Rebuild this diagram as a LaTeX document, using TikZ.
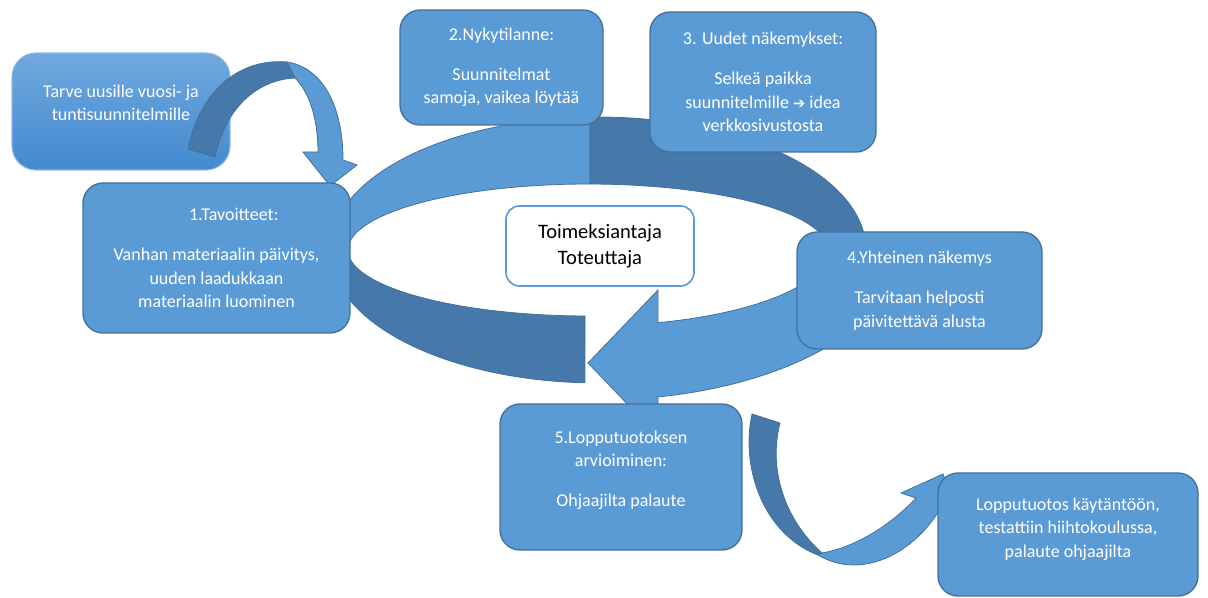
\documentclass[tikz,border=0pt]{standalone}
\usepackage{fontspec}
\setmainfont{Carlito}
\newfontfamily\arrowfont{DejaVu Sans}
\usepackage{xcolor}
\usepackage{tikz}
\usetikzlibrary{positioning}
\definecolor{boxblue}{RGB}{91,155,213}
\definecolor{boxline}{RGB}{65,113,156}
\definecolor{ringdark}{RGB}{70,120,170}
\definecolor{tarvetop}{RGB}{112,168,222}
\definecolor{tarvebot}{RGB}{68,138,208}
\definecolor{tarveedge}{RGB}{140,185,230}

\begin{document}
\begin{tikzpicture}[x=0.75pt, y=-0.75pt,
    box/.style={rectangle, rounded corners=15pt, draw=boxline, line width=1pt,
                fill=boxblue, text=white, align=center, inner sep=0pt,
                font=\fontsize{13.5}{17.6}\selectfont},
    core/.style={rectangle, rounded corners=10pt, draw=boxblue, line width=1.2pt,
                 fill=white, align=center, inner sep=0pt,
                 font=\fontsize{15.4}{19.5}\selectfont},
    bandlight/.style={fill=boxblue, draw=boxline, line width=0.6pt},
    banddark/.style={fill=ringdark, draw=boxline, line width=0.6pt}
  ]
    \useasboundingbox (0,0) rectangle (1208,598);

    % ring round the centre
    \filldraw[bandlight] plot[domain=195:268.3, samples=40] ({598+268*cos(\x)},{250+133*sin(\x)})
      -- plot[domain=270.5:185, samples=40] ({588+240*cos(\x)},{250+66*sin(\x)}) -- cycle;
    \filldraw[banddark] plot[domain=268.3:365, samples=40] ({598+268*cos(\x)},{250+133*sin(\x)})
      -- plot[domain=365:270.5, samples=40] ({588+240*cos(\x)},{250+66*sin(\x)}) -- cycle;
    \filldraw[banddark] plot[domain=165:92.8, samples=40] ({598+268*cos(\x)},{250+133*sin(\x)})
      -- plot[domain=90.7:175, samples=40] ({588+240*cos(\x)},{250+66*sin(\x)}) -- cycle;
    \filldraw[bandlight] plot[domain=5:73.04, samples=40] ({588+240*cos(\x)},{250+76*sin(\x)})
      -- (658,290) -- (588,363) -- (658,436)
      -- plot[domain=78.46:10, samples=40] ({598+300*cos(\x)},{250+150*sin(\x)}) -- cycle;

    \node[rectangle, rounded corners=18pt, draw=tarveedge, line width=0.8pt,
          top color=tarvetop, bottom color=tarvebot, text=white, align=center,
          minimum width=163.5pt, minimum height=87.75pt, inner sep=0pt,
          font=\fontsize{13.5}{17.6}\selectfont] (tarve) at (121,111.5)
      {Tarve uusille vuosi- ja\\tuntisuunnitelmille\\[-4.1pt]};

    % curved arrow from the need to the goals
    \filldraw[banddark] (188,149) .. controls (200,90) and (240,58) .. (287,62)
      -- (295,78) .. controls (255,80) and (225,110) .. (215,157) -- cycle;
    \filldraw[bandlight] (287,62) .. controls (325,68) and (343,110) .. (343,160)
      -- (357,165) -- (330,186) -- (303,152) -- (318,152)
      .. controls (318,125) and (312,95) .. (295,78) -- cycle;

    % curved arrow from the evaluation to the final product
    \filldraw[banddark] (752,414) .. controls (740,470) and (765,535) .. (818,555)
      -- (822,553) .. controls (785,520) and (768,470) .. (780,423) -- cycle;
    \filldraw[bandlight] (818,555) .. controls (860,580) and (910,555) .. (937,514)
      -- (958,512) -- (943,474) -- (901,493) -- (916,498)
      .. controls (888,528) and (852,548) .. (822,553) -- cycle;

    \node[box, minimum width=200.25pt, minimum height=112.5pt] (goals) at (216.5,258)
      {\hspace*{26pt}1.Tavoitteet:\\[12.4pt]Vanhan materiaalin päivitys,\\uuden laadukkaan\\materiaalin luominen};
    \node[box, minimum width=152.25pt, minimum height=86.25pt] (now) at (501.5,67.5)
      {2.Nykytilanne:\\[12.4pt]Suunnitelmat\\samoja, vaikea löytää};
    \node[box, minimum width=169.5pt, minimum height=105pt] (views) at (763,82)
      {3. Uudet näkemykset:\\[12.4pt]Selkeä paikka\\suunnitelmille {\arrowfont\fontsize{11}{17.6}\selectfont ➔} idea\\verkkosivustosta};
    \node[box, minimum width=183.75pt, minimum height=87.75pt] (shared) at (919.5,290.5)
      {4.Yhteinen näkemys\\[12.4pt]Tarvitaan helposti\\päivitettävä alusta};
    \node[box, minimum width=181.5pt, minimum height=109.5pt] (review) at (621,477)
      {5.Lopputuotoksen\\arvioiminen:\\[12.4pt]Ohjaajilta palaute\\[-5.6pt]};
    \node[box, minimum width=195pt, minimum height=92.25pt] (final) at (1068,534.5)
      {Lopputuotos käytäntöön,\\testattiin hiihtokoulussa,\\palaute ohjaajilta\\[-7pt]};
    \node[core, minimum width=141pt, minimum height=60pt] (roles) at (600,246)
      {Toimeksiantaja\\Toteuttaja};
  \end{tikzpicture}
\end{document}
